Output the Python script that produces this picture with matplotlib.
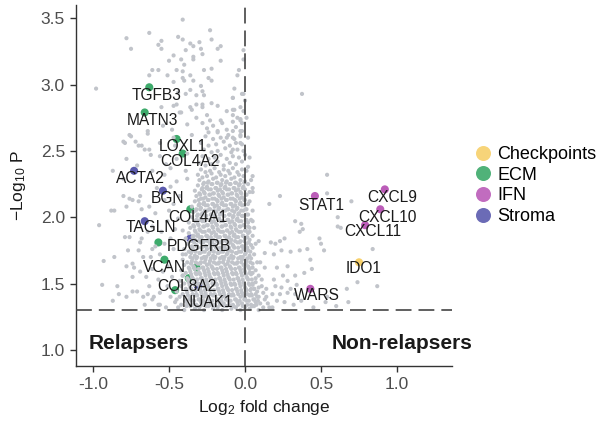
import numpy as np
import matplotlib
matplotlib.use("Agg")
import matplotlib.pyplot as plt
from matplotlib.lines import Line2D

plt.rcParams["font.family"] = ["Liberation Sans", "DejaVu Sans"]
plt.rcParams["mathtext.fontset"] = "custom"
plt.rcParams["mathtext.rm"] = "Liberation Sans"
plt.rcParams["mathtext.it"] = "Liberation Sans:italic"

# highlighted genes: log2 fold change, -log10 p, pathway group
genes = ["TGFB3", "MATN3", "LOXL1", "COL4A2", "ACTA2", "BGN", "COL4A1", "TAGLN",
         "PDGFRB", "", "VCAN", "", "", "COL8A2", "NUAK1",
         "STAT1", "CXCL9", "CXCL10", "CXCL11", "IDO1", "WARS"]
gene_lfc = [-0.63, -0.66, -0.45, -0.41, -0.73, -0.54, -0.36, -0.66,
            -0.36, -0.57, -0.53, -0.32, -0.37, -0.46, -0.31,
            0.46, 0.92, 0.89, 0.79, 0.75, 0.43]
gene_logp = [2.98, 2.79, 2.59, 2.48, 2.35, 2.20, 2.06, 1.97,
             1.84, 1.81, 1.68, 1.62, 1.54, 1.45, 1.48,
             2.16, 2.21, 2.06, 1.94, 1.66, 1.46]
gene_group = ["ECM", "ECM", "ECM", "ECM", "Stroma", "Stroma", "ECM", "Stroma",
              "Stroma", "ECM", "ECM", "ECM", "ECM", "ECM", "Stroma",
              "IFN", "IFN", "IFN", "IFN", "Checkpoints", "IFN"]

# where each gene name is written
label_pos = [(-0.585, 2.92), (-0.61, 2.73), (-0.41, 2.53), (-0.36, 2.42), (-0.69, 2.29),
             (-0.51, 2.14), (-0.31, 2.00), (-0.62, 1.92), (-0.30, 1.78), None,
             (-0.53, 1.62), None, None, (-0.38, 1.48), (-0.25, 1.36),
             (0.50, 2.09), (0.97, 2.15), (0.94, 2.00), (0.84, 1.89), (0.78, 1.61), (0.47, 1.41)]

groups = ["Checkpoints", "ECM", "IFN", "Stroma"]
group_colors = {"Checkpoints": "#F7D06B", "ECM": "#3DAA6B", "IFN": "#BB5CB8", "Stroma": "#5B5BAE"}

# all other genes (grey)
bg_upper = [
    (-0.41, 3.49), (-0.78, 3.35), (-0.63, 3.39), (-0.75, 3.27), (-0.55, 3.33), (-0.57, 3.30),
    (-0.55, 3.27), (-0.44, 3.36), (-0.41, 3.34), (-0.36, 3.31), (-0.34, 3.29), (-0.30, 3.32),
    (-0.29, 3.27), (-0.23, 3.41), (-0.22, 3.34), (-0.28, 3.23), (-0.16, 3.29), (-0.18, 3.27),
    (-0.16, 3.18), (-0.39, 3.26), (-0.34, 3.21), (-0.34, 3.19), (-0.42, 3.19), (-0.47, 3.22),
    (-0.50, 3.18), (-0.40, 3.15), (-0.45, 3.11), (-0.41, 3.10), (-0.57, 3.11), (-0.61, 3.11),
    (-0.63, 3.07), (-0.51, 3.07), (-0.47, 3.02), (-0.41, 3.05), (-0.40, 3.03), (-0.36, 3.07),
    (-0.34, 3.03), (-0.27, 3.11), (-0.22, 3.12), (-0.24, 3.05), (-0.22, 3.03), (-0.29, 2.99),
    (-0.28, 2.95), (-0.36, 2.96), (-0.44, 2.94), (-0.39, 2.93), (-0.32, 2.92), (-0.27, 2.92),
    (-0.98, 2.97), (-0.07, 2.97), (-0.04, 3.11), (-0.05, 3.07), (-0.08, 2.90), (-0.01, 2.93),
    (-0.01, 3.26), (-0.01, 3.19), (-0.45, 2.85), (-0.47, 2.84), (-0.36, 2.83), (-0.32, 2.85),
    (-0.28, 2.85), (-0.22, 2.86), (-0.18, 2.84), (-0.08, 2.81), (-0.01, 2.80), (-0.42, 2.79),
    (-0.55, 2.83), (0.375, 2.93), (-0.02, 2.93), (-0.07, 2.81), (-0.05, 2.75), (-0.02, 2.71),
    (-0.08, 2.65), (-0.03, 2.62), (-0.08, 2.60), (-0.03, 2.56), (-0.08, 2.51),
]
bg_mid = [
    (-0.76, 2.62), (-0.79, 2.56), (-0.72, 2.57), (-0.64, 2.65), (-0.54, 2.69), (-0.48, 2.66),
    (-0.38, 2.70), (-0.35, 2.62), (-0.32, 2.75), (-0.28, 2.71), (-0.21, 2.69), (-0.18, 2.64),
    (-0.24, 2.64), (-0.43, 2.79), (-0.35, 2.81), (-0.28, 2.83), (-0.25, 2.77), (-0.08, 2.90),
    (-0.03, 2.83), (-0.08, 2.77), (-0.03, 2.73), (-0.12, 2.80), (-0.16, 2.73), (-0.03, 2.65),
    (-0.12, 2.60), (-0.80, 2.57), (-0.75, 2.61), (-0.70, 2.54), (-0.64, 2.63), (-0.66, 2.51),
    (-0.62, 2.47), (-0.86, 2.05), (-0.78, 2.08), (-0.76, 2.14), (-0.70, 2.12),
    (-0.88, 2.05), (-0.96, 1.94), (-0.94, 1.49), (-0.93, 1.67), (-0.79, 1.85), (-0.77, 1.75),
    (-0.74, 1.65), (-0.74, 1.55), (-0.69, 1.59), (-0.71, 1.44), (-0.64, 1.42), (-0.61, 1.38),
    (-0.66, 1.34), (-0.56, 1.34), (-0.68, 2.06), (-0.74, 2.13), (-0.80, 2.16), (-0.69, 2.16),
    (-0.63, 2.08), (-0.59, 2.03), (-0.64, 1.89), (-0.61, 1.93), (-0.55, 1.89), (-0.69, 1.81),
    (-0.61, 1.76), (-0.56, 1.72), (-0.67, 1.70), (-0.61, 1.61), (-0.57, 1.53), (-0.54, 1.59),
    (-0.51, 1.48), (-0.56, 1.43), (-0.49, 1.40), (-0.51, 1.63), (-0.47, 1.76), (-0.49, 1.84),
    (-0.46, 1.91), (-0.51, 1.97), (-0.44, 1.99), (-0.47, 2.10), (-0.53, 2.13), (-0.43, 2.16),
    (-0.58, 2.22), (-0.49, 2.23), (-0.45, 2.27), (-0.53, 2.32), (-0.61, 2.35), (-0.49, 2.37),
    (-0.45, 2.44), (-0.56, 2.46), (-0.63, 2.51), (-0.68, 2.54), (-0.56, 2.56), (-0.46, 2.54),
    (-0.71, 2.39), (-0.78, 2.44), (-0.80, 2.29), (-0.87, 2.35), (-0.39, 2.35), (-0.38, 2.29),
    (-0.38, 2.48), (-0.41, 1.90), (-0.41, 1.72), (-0.41, 1.56), (-0.45, 1.38), (-0.78, 1.40),
    (-0.84, 1.48), (-0.87, 1.37), (-0.78, 1.63), (-0.73, 1.62), (-0.70, 1.75), (-0.76, 1.85),
    (-0.68, 1.84), (-0.65, 1.55), (-0.63, 1.48), (-0.74, 1.44), (-0.60, 1.40), (-0.67, 1.40),
    (-0.57, 1.34), (-0.62, 1.70), (-0.59, 1.78), (-0.86, 1.70), (-0.83, 1.42),
    (-0.52, 2.40), (-0.50, 2.05), (-0.53, 1.80), (-0.48, 1.55), (-0.52, 1.32), (-0.47, 2.60),
]
bg_core = [
    (-0.44, 1.32), (-0.40, 1.30), (-0.36, 1.33), (-0.33, 1.31), (-0.30, 1.32), (-0.27, 1.30),
    (-0.24, 1.33), (-0.21, 1.31), (-0.18, 1.32), (-0.15, 1.30), (-0.12, 1.33), (-0.09, 1.31),
    (-0.06, 1.32), (-0.03, 1.30), (0.00, 1.32), (0.03, 1.31), (0.06, 1.33), (0.09, 1.30), (0.12, 1.32),
    (-0.46, 1.36), (-0.42, 1.34), (-0.38, 1.35), (-0.35, 1.37), (-0.32, 1.34), (-0.29, 1.36),
    (-0.26, 1.35), (-0.23, 1.37), (-0.20, 1.34), (-0.17, 1.36), (-0.14, 1.35), (-0.11, 1.37),
    (-0.08, 1.34), (-0.05, 1.36), (-0.02, 1.35), (0.01, 1.37), (0.04, 1.34), (0.07, 1.36), (0.10, 1.35),
    (-0.43, 1.40), (-0.39, 1.38), (-0.36, 1.39), (-0.33, 1.41), (-0.30, 1.38), (-0.27, 1.40),
    (-0.24, 1.39), (-0.21, 1.41), (-0.18, 1.38), (-0.15, 1.40), (-0.12, 1.39), (-0.09, 1.41),
    (-0.06, 1.38), (-0.03, 1.40), (0.00, 1.39), (0.03, 1.41), (0.06, 1.38), (0.09, 1.40),
    (-0.45, 1.44), (-0.41, 1.42), (-0.38, 1.43), (-0.35, 1.45), (-0.32, 1.42), (-0.29, 1.44),
    (-0.26, 1.43), (-0.23, 1.45), (-0.20, 1.42), (-0.17, 1.44), (-0.14, 1.43), (-0.11, 1.45),
    (-0.08, 1.42), (-0.05, 1.44), (-0.02, 1.43), (0.01, 1.45), (0.04, 1.42), (0.08, 1.44),
    (-0.42, 1.48), (-0.39, 1.46), (-0.36, 1.47), (-0.33, 1.49), (-0.30, 1.46), (-0.27, 1.48),
    (-0.24, 1.47), (-0.21, 1.49), (-0.18, 1.46), (-0.15, 1.48), (-0.12, 1.47), (-0.09, 1.49),
    (-0.06, 1.46), (-0.03, 1.48), (0.00, 1.47), (0.03, 1.49), (0.06, 1.46),
    (-0.43, 1.52), (-0.40, 1.50), (-0.37, 1.51), (-0.34, 1.53), (-0.31, 1.50), (-0.28, 1.52),
    (-0.25, 1.51), (-0.22, 1.53), (-0.19, 1.50), (-0.16, 1.52), (-0.13, 1.51), (-0.10, 1.53),
    (-0.07, 1.50), (-0.04, 1.52), (-0.01, 1.51), (0.02, 1.53), (0.05, 1.50),
    (-0.41, 1.56), (-0.38, 1.54), (-0.35, 1.55), (-0.32, 1.57), (-0.29, 1.54), (-0.26, 1.56),
    (-0.23, 1.55), (-0.20, 1.57), (-0.17, 1.54), (-0.14, 1.56), (-0.11, 1.55), (-0.08, 1.57),
    (-0.05, 1.54), (-0.02, 1.56), (0.01, 1.55), (0.04, 1.57), (0.07, 1.54),
    (-0.42, 1.60), (-0.39, 1.58), (-0.36, 1.59), (-0.33, 1.61), (-0.30, 1.58), (-0.27, 1.60),
    (-0.24, 1.59), (-0.21, 1.61), (-0.18, 1.58), (-0.15, 1.60), (-0.12, 1.59), (-0.09, 1.61),
    (-0.06, 1.58), (-0.03, 1.60), (0.00, 1.59), (0.03, 1.61), (0.05, 1.58),
    (-0.40, 1.64), (-0.37, 1.62), (-0.34, 1.63), (-0.31, 1.65), (-0.28, 1.62), (-0.25, 1.64),
    (-0.22, 1.63), (-0.19, 1.65), (-0.16, 1.62), (-0.13, 1.64), (-0.10, 1.63), (-0.07, 1.65),
    (-0.04, 1.62), (-0.01, 1.64), (0.02, 1.63), (0.05, 1.65),
    (-0.41, 1.68), (-0.38, 1.66), (-0.35, 1.67), (-0.32, 1.69), (-0.29, 1.66), (-0.26, 1.68),
    (-0.23, 1.67), (-0.20, 1.69), (-0.17, 1.66), (-0.14, 1.68), (-0.11, 1.67), (-0.08, 1.69),
    (-0.05, 1.66), (-0.02, 1.68), (0.01, 1.67), (0.04, 1.69),
    (-0.39, 1.72), (-0.36, 1.70), (-0.33, 1.71), (-0.30, 1.73), (-0.27, 1.70), (-0.24, 1.72),
    (-0.21, 1.71), (-0.18, 1.73), (-0.15, 1.70), (-0.12, 1.72), (-0.09, 1.71), (-0.06, 1.73),
    (-0.03, 1.70), (0.00, 1.72), (0.03, 1.71),
    (-0.40, 1.76), (-0.37, 1.74), (-0.34, 1.75), (-0.31, 1.77), (-0.28, 1.74), (-0.25, 1.76),
    (-0.22, 1.75), (-0.19, 1.77), (-0.16, 1.74), (-0.13, 1.76), (-0.10, 1.75), (-0.07, 1.77),
    (-0.04, 1.74), (-0.01, 1.76), (0.02, 1.75), (0.05, 1.77),
    (-0.38, 1.80), (-0.35, 1.78), (-0.32, 1.79), (-0.29, 1.81), (-0.26, 1.78), (-0.23, 1.80),
    (-0.20, 1.79), (-0.17, 1.81), (-0.14, 1.78), (-0.11, 1.80), (-0.08, 1.79), (-0.05, 1.81),
    (-0.02, 1.78), (0.01, 1.80), (0.04, 1.79),
    (-0.39, 1.84), (-0.36, 1.82), (-0.33, 1.83), (-0.30, 1.85), (-0.27, 1.82), (-0.24, 1.84),
    (-0.21, 1.83), (-0.18, 1.85), (-0.15, 1.82), (-0.12, 1.84), (-0.09, 1.83), (-0.06, 1.85),
    (-0.03, 1.82), (0.00, 1.84), (0.03, 1.83),
    (-0.37, 1.88), (-0.34, 1.86), (-0.31, 1.87), (-0.28, 1.89), (-0.25, 1.86), (-0.22, 1.88),
    (-0.19, 1.87), (-0.16, 1.89), (-0.13, 1.86), (-0.10, 1.88), (-0.07, 1.87), (-0.04, 1.89),
    (-0.01, 1.86), (0.02, 1.88),
    (-0.36, 1.92), (-0.33, 1.90), (-0.30, 1.91), (-0.27, 1.93), (-0.24, 1.90), (-0.21, 1.92),
    (-0.18, 1.91), (-0.15, 1.93), (-0.12, 1.90), (-0.09, 1.92), (-0.06, 1.91), (-0.03, 1.93),
    (0.00, 1.90), (0.03, 1.92),
    (-0.37, 1.96), (-0.34, 1.94), (-0.31, 1.95), (-0.28, 1.97), (-0.25, 1.94), (-0.22, 1.96),
    (-0.19, 1.95), (-0.16, 1.97), (-0.13, 1.94), (-0.10, 1.96), (-0.07, 1.95), (-0.04, 1.97),
    (-0.01, 1.94), (0.02, 1.96),
    (-0.35, 2.00), (-0.32, 1.98), (-0.29, 1.99), (-0.26, 2.01), (-0.23, 1.98), (-0.20, 2.00),
    (-0.17, 1.99), (-0.14, 2.01), (-0.11, 1.98), (-0.08, 2.00), (-0.05, 1.99), (-0.02, 2.01), (0.01, 1.98),
    (-0.34, 2.04), (-0.31, 2.02), (-0.28, 2.03), (-0.25, 2.05), (-0.22, 2.02), (-0.19, 2.04),
    (-0.16, 2.03), (-0.13, 2.05), (-0.10, 2.02), (-0.07, 2.04), (-0.04, 2.03), (-0.01, 2.05), (0.02, 2.02),
    (-0.35, 2.08), (-0.32, 2.06), (-0.29, 2.07), (-0.26, 2.09), (-0.23, 2.06), (-0.20, 2.08),
    (-0.17, 2.07), (-0.14, 2.09), (-0.11, 2.06), (-0.08, 2.08), (-0.05, 2.07), (-0.02, 2.09), (0.01, 2.06),
    (-0.33, 2.12), (-0.30, 2.10), (-0.27, 2.11), (-0.24, 2.13), (-0.21, 2.10), (-0.18, 2.12),
    (-0.15, 2.11), (-0.12, 2.13), (-0.09, 2.10), (-0.06, 2.12), (-0.03, 2.11), (0.00, 2.13), (0.02, 2.10),
    (-0.32, 2.16), (-0.29, 2.14), (-0.26, 2.15), (-0.23, 2.17), (-0.20, 2.14), (-0.17, 2.16),
    (-0.14, 2.15), (-0.11, 2.17), (-0.08, 2.14), (-0.05, 2.16), (-0.02, 2.15), (0.01, 2.17),
    (-0.33, 2.20), (-0.30, 2.18), (-0.27, 2.19), (-0.24, 2.21), (-0.21, 2.18), (-0.18, 2.20),
    (-0.15, 2.19), (-0.12, 2.21), (-0.09, 2.18), (-0.06, 2.20), (-0.03, 2.19), (0.00, 2.21),
    (-0.31, 2.24), (-0.28, 2.22), (-0.25, 2.23), (-0.22, 2.25), (-0.19, 2.22), (-0.16, 2.24),
    (-0.13, 2.23), (-0.10, 2.25), (-0.07, 2.22), (-0.04, 2.24), (-0.01, 2.23), (0.02, 2.25),
    (-0.30, 2.28), (-0.27, 2.26), (-0.24, 2.27), (-0.21, 2.29), (-0.18, 2.26), (-0.15, 2.28),
    (-0.12, 2.27), (-0.09, 2.29), (-0.06, 2.26), (-0.03, 2.28), (0.00, 2.27),
    (-0.31, 2.32), (-0.28, 2.30), (-0.25, 2.31), (-0.22, 2.33), (-0.19, 2.30), (-0.16, 2.32),
    (-0.13, 2.31), (-0.10, 2.33), (-0.07, 2.30), (-0.04, 2.32), (-0.01, 2.31),
    (-0.29, 2.36), (-0.26, 2.34), (-0.23, 2.35), (-0.20, 2.37), (-0.17, 2.34), (-0.14, 2.36),
    (-0.11, 2.35), (-0.08, 2.37), (-0.05, 2.34), (-0.02, 2.36), (0.01, 2.35),
    (-0.30, 2.41), (-0.26, 2.39), (-0.22, 2.40), (-0.18, 2.42), (-0.14, 2.39), (-0.10, 2.41),
    (-0.06, 2.40), (-0.02, 2.42),
    (-0.28, 2.46), (-0.24, 2.44), (-0.20, 2.45), (-0.16, 2.47), (-0.12, 2.44), (-0.08, 2.46),
    (-0.04, 2.45), (0.00, 2.47),
    (-0.27, 2.51), (-0.22, 2.49), (-0.18, 2.50), (-0.13, 2.52), (-0.09, 2.49), (-0.05, 2.51), (-0.01, 2.50),
    (-0.29, 2.56), (-0.24, 2.54), (-0.19, 2.55), (-0.14, 2.57), (-0.10, 2.54), (-0.06, 2.56), (-0.02, 2.55),
    (-0.26, 2.61), (-0.21, 2.59), (-0.16, 2.60), (-0.11, 2.62), (-0.07, 2.59), (-0.03, 2.61),
    (-0.25, 2.67), (-0.18, 2.65), (-0.12, 2.66), (-0.06, 2.68), (-0.02, 2.65),
    (-0.23, 2.73), (-0.15, 2.71), (-0.08, 2.72), (-0.03, 2.74),
]
# second pass through the densest part of the cloud
bg_core_fill = [
    (-0.385, 1.33), (-0.345, 1.34), (-0.315, 1.33), (-0.285, 1.34), (-0.255, 1.33), (-0.225, 1.34),
    (-0.195, 1.33), (-0.165, 1.34), (-0.135, 1.33), (-0.105, 1.34), (-0.075, 1.33), (-0.045, 1.34),
    (-0.015, 1.33), (0.015, 1.34), (0.045, 1.33), (0.075, 1.34),
    (-0.395, 1.37), (-0.365, 1.38), (-0.335, 1.37), (-0.305, 1.38), (-0.275, 1.37), (-0.245, 1.38),
    (-0.215, 1.37), (-0.185, 1.38), (-0.155, 1.37), (-0.125, 1.38), (-0.095, 1.37), (-0.065, 1.38),
    (-0.035, 1.37), (-0.005, 1.38), (0.025, 1.37), (0.055, 1.38), (0.085, 1.37),
    (-0.375, 1.41), (-0.345, 1.42), (-0.315, 1.41), (-0.285, 1.42), (-0.255, 1.41), (-0.225, 1.42),
    (-0.195, 1.41), (-0.165, 1.42), (-0.135, 1.41), (-0.105, 1.42), (-0.075, 1.41), (-0.045, 1.42),
    (-0.015, 1.41), (0.015, 1.42), (0.045, 1.41), (0.07, 1.42),
    (-0.385, 1.45), (-0.355, 1.46), (-0.325, 1.45), (-0.295, 1.46), (-0.265, 1.45), (-0.235, 1.46),
    (-0.205, 1.45), (-0.175, 1.46), (-0.145, 1.45), (-0.115, 1.46), (-0.085, 1.45), (-0.055, 1.46),
    (-0.025, 1.45), (0.005, 1.46), (0.035, 1.45), (0.06, 1.46),
    (-0.365, 1.49), (-0.335, 1.50), (-0.305, 1.49), (-0.275, 1.50), (-0.245, 1.49), (-0.215, 1.50),
    (-0.185, 1.49), (-0.155, 1.50), (-0.125, 1.49), (-0.095, 1.50), (-0.065, 1.49), (-0.035, 1.50),
    (-0.005, 1.49), (0.025, 1.50), (0.05, 1.49),
    (-0.375, 1.53), (-0.345, 1.54), (-0.315, 1.53), (-0.285, 1.54), (-0.255, 1.53), (-0.225, 1.54),
    (-0.195, 1.53), (-0.165, 1.54), (-0.135, 1.53), (-0.105, 1.54), (-0.075, 1.53), (-0.045, 1.54),
    (-0.015, 1.53), (0.015, 1.54), (0.045, 1.53),
    (-0.355, 1.57), (-0.325, 1.58), (-0.295, 1.57), (-0.265, 1.58), (-0.235, 1.57), (-0.205, 1.58),
    (-0.175, 1.57), (-0.145, 1.58), (-0.115, 1.57), (-0.085, 1.58), (-0.055, 1.57), (-0.025, 1.58),
    (0.005, 1.57), (0.035, 1.58),
    (-0.365, 1.61), (-0.335, 1.62), (-0.305, 1.61), (-0.275, 1.62), (-0.245, 1.61), (-0.215, 1.62),
    (-0.185, 1.61), (-0.155, 1.62), (-0.125, 1.61), (-0.095, 1.62), (-0.065, 1.61), (-0.035, 1.62),
    (-0.005, 1.61), (0.025, 1.62),
    (-0.355, 1.65), (-0.325, 1.66), (-0.295, 1.65), (-0.265, 1.66), (-0.235, 1.65), (-0.205, 1.66),
    (-0.175, 1.65), (-0.145, 1.66), (-0.115, 1.65), (-0.085, 1.66), (-0.055, 1.65), (-0.025, 1.66),
    (0.005, 1.65), (0.035, 1.66),
    (-0.345, 1.69), (-0.315, 1.70), (-0.285, 1.69), (-0.255, 1.70), (-0.225, 1.69), (-0.195, 1.70),
    (-0.165, 1.69), (-0.135, 1.70), (-0.105, 1.69), (-0.075, 1.70), (-0.045, 1.69), (-0.015, 1.70),
    (0.015, 1.69),
    (-0.355, 1.73), (-0.325, 1.74), (-0.295, 1.73), (-0.265, 1.74), (-0.235, 1.73), (-0.205, 1.74),
    (-0.175, 1.73), (-0.145, 1.74), (-0.115, 1.73), (-0.085, 1.74), (-0.055, 1.73), (-0.025, 1.74),
    (0.005, 1.73), (0.035, 1.74),
    (-0.345, 1.77), (-0.315, 1.78), (-0.285, 1.77), (-0.255, 1.78), (-0.225, 1.77), (-0.195, 1.78),
    (-0.165, 1.77), (-0.135, 1.78), (-0.105, 1.77), (-0.075, 1.78), (-0.045, 1.77), (-0.015, 1.78),
    (0.015, 1.77),
    (-0.335, 1.81), (-0.305, 1.82), (-0.275, 1.81), (-0.245, 1.82), (-0.215, 1.81), (-0.185, 1.82),
    (-0.155, 1.81), (-0.125, 1.82), (-0.095, 1.81), (-0.065, 1.82), (-0.035, 1.81), (-0.005, 1.82),
    (0.025, 1.81),
    (-0.345, 1.85), (-0.315, 1.86), (-0.285, 1.85), (-0.255, 1.86), (-0.225, 1.85), (-0.195, 1.86),
    (-0.165, 1.85), (-0.135, 1.86), (-0.105, 1.85), (-0.075, 1.86), (-0.045, 1.85), (-0.015, 1.86),
    (0.015, 1.85),
    (-0.325, 1.89), (-0.295, 1.90), (-0.265, 1.89), (-0.235, 1.90), (-0.205, 1.89), (-0.175, 1.90),
    (-0.145, 1.89), (-0.115, 1.90), (-0.085, 1.89), (-0.055, 1.90), (-0.025, 1.89), (0.005, 1.90),
    (-0.335, 1.93), (-0.305, 1.94), (-0.275, 1.93), (-0.245, 1.94), (-0.215, 1.93), (-0.185, 1.94),
    (-0.155, 1.93), (-0.125, 1.94), (-0.095, 1.93), (-0.065, 1.94), (-0.035, 1.93), (-0.005, 1.94),
    (0.02, 1.93),
    (-0.325, 1.97), (-0.295, 1.98), (-0.265, 1.97), (-0.235, 1.98), (-0.205, 1.97), (-0.175, 1.98),
    (-0.145, 1.97), (-0.115, 1.98), (-0.085, 1.97), (-0.055, 1.98), (-0.025, 1.97), (0.005, 1.98),
    (-0.315, 2.01), (-0.285, 2.02), (-0.255, 2.01), (-0.225, 2.02), (-0.195, 2.01), (-0.165, 2.02),
    (-0.135, 2.01), (-0.105, 2.02), (-0.075, 2.01), (-0.045, 2.02), (-0.015, 2.01), (0.01, 2.02),
    (-0.325, 2.05), (-0.295, 2.06), (-0.265, 2.05), (-0.235, 2.06), (-0.205, 2.05), (-0.175, 2.06),
    (-0.145, 2.05), (-0.115, 2.06), (-0.085, 2.05), (-0.055, 2.06), (-0.025, 2.05), (0.005, 2.06),
    (-0.305, 2.09), (-0.275, 2.10), (-0.245, 2.09), (-0.215, 2.10), (-0.185, 2.09), (-0.155, 2.10),
    (-0.125, 2.09), (-0.095, 2.10), (-0.065, 2.09), (-0.035, 2.10), (-0.005, 2.09),
    (-0.305, 2.13), (-0.275, 2.14), (-0.245, 2.13), (-0.215, 2.14), (-0.185, 2.13), (-0.155, 2.14),
    (-0.125, 2.13), (-0.095, 2.14), (-0.065, 2.13), (-0.035, 2.14), (-0.005, 2.13),
    (-0.295, 2.17), (-0.265, 2.18), (-0.235, 2.17), (-0.205, 2.18), (-0.175, 2.17), (-0.145, 2.18),
    (-0.115, 2.17), (-0.085, 2.18), (-0.055, 2.17), (-0.025, 2.18), (0.005, 2.17),
    (-0.285, 2.21), (-0.255, 2.22), (-0.225, 2.21), (-0.195, 2.22), (-0.165, 2.21), (-0.135, 2.22),
    (-0.105, 2.21), (-0.075, 2.22), (-0.045, 2.21), (-0.015, 2.22),
    (-0.275, 2.25), (-0.245, 2.26), (-0.215, 2.25), (-0.185, 2.26), (-0.155, 2.25), (-0.125, 2.26),
    (-0.095, 2.25), (-0.065, 2.26), (-0.035, 2.25), (-0.005, 2.26),
]
bg_right = [
    (0.05, 2.19), (0.23, 2.16), (0.16, 2.10), (0.05, 1.97), (0.03, 1.89), (0.09, 1.82),
    (0.17, 1.81), (0.20, 1.80), (0.23, 1.82), (0.26, 1.84), (0.33, 1.97), (0.37, 1.95),
    (0.36, 1.89), (0.38, 1.91), (0.49, 1.84), (0.50, 1.80), (0.52, 1.75), (0.54, 2.18),
    (0.61, 1.93), (0.70, 2.12), (0.84, 1.76), (0.41, 1.76), (0.36, 1.75), (0.30, 1.74),
    (0.24, 1.75), (0.19, 1.72), (0.13, 1.73), (0.10, 1.66), (0.05, 1.62), (0.03, 1.58),
    (0.13, 1.62), (0.21, 1.62), (0.28, 1.63), (0.43, 1.68), (0.44, 1.61), (0.39, 1.58),
    (0.33, 1.56), (0.25, 1.56), (0.19, 1.53), (0.11, 1.53), (0.07, 1.51), (0.04, 1.46),
    (0.09, 1.47), (0.14, 1.46), (0.20, 1.48), (0.24, 1.47), (0.28, 1.52), (0.34, 1.49),
    (0.30, 1.46), (0.18, 1.42), (0.23, 1.42), (0.28, 1.43), (0.33, 1.42), (0.08, 1.40),
    (0.13, 1.38), (0.21, 1.37), (0.26, 1.36), (0.32, 1.34), (0.37, 1.37), (0.53, 1.36),
    (0.67, 1.46), (0.74, 1.51), (0.87, 1.48), (0.60, 1.33), (0.68, 1.36), (0.05, 1.33),
    (0.18, 1.32), (0.45, 1.32), (0.54, 1.40), (0.54, 2.32), (0.61, 2.00), (0.63, 1.92),
    (0.05, 2.31), (0.03, 2.19), (0.03, 2.45), (0.02, 2.38), (0.04, 2.28), (0.05, 2.22),
    (0.03, 2.12), (0.05, 2.05), (0.04, 1.98), (0.06, 1.92), (0.05, 1.86), (0.07, 1.80),
    (0.06, 1.72), (0.08, 1.66), (0.07, 1.60), (0.09, 1.56), (0.11, 1.48), (0.12, 1.43),
    (0.14, 1.40), (0.15, 1.35), (0.16, 1.32), (0.02, 2.60), (0.01, 2.75), (0.00, 2.88),
]

fig = plt.figure(figsize=(5.99, 4.21), dpi=100)
ax = fig.add_axes([0.1269, 0.1306, 0.6277, 0.8574])

# highlighted genes sit underneath the grey cloud
for g in groups:
    xs = [x for x, grp in zip(gene_lfc, gene_group) if grp == g]
    ys = [y for y, grp in zip(gene_logp, gene_group) if grp == g]
    ax.scatter(xs, ys, s=34, color=group_colors[g], edgecolors="none", zorder=2)

bg = np.array(bg_upper + bg_mid + bg_core + bg_core_fill + bg_right)
ax.scatter(bg[:, 0], bg[:, 1], s=9, color="#C1C4CA", edgecolors="none", zorder=3)

for name, pos in zip(genes, label_pos):
    if pos is None:
        continue
    ax.text(pos[0], pos[1], name, fontsize=11.2, color="#1A1A1A",
            ha="center", va="center", zorder=5)

dash = (0, (9.5, 4.2))
ax.axvline(0, color="#444444", lw=1.2, linestyle=dash, zorder=4)
ax.axhline(1.30, color="#444444", lw=1.2, linestyle=dash, zorder=4)

ax.text(-1.03, 1.05, "Relapsers", fontsize=15, fontweight="bold", color="#1A1A1A",
        ha="left", va="center")
ax.text(0.57, 1.05, "Non-relapsers", fontsize=15, fontweight="bold", color="#1A1A1A",
        ha="left", va="center", clip_on=False)

ax.set_xlim(-1.112, 1.362)
ax.set_ylim(0.878, 3.60)
ax.set_xticks([-1.0, -0.5, 0.0, 0.5, 1.0])
ax.set_yticks([1.0, 1.5, 2.0, 2.5, 3.0, 3.5])
ax.xaxis.set_major_formatter(matplotlib.ticker.FormatStrFormatter("%.1f"))
ax.yaxis.set_major_formatter(matplotlib.ticker.FormatStrFormatter("%.1f"))
ax.tick_params(labelsize=12.5, labelcolor="#4D4D4D", color="#333333", length=4.5, width=1.0)
for side in ["top", "right"]:
    ax.spines[side].set_visible(False)
for side in ["left", "bottom"]:
    ax.spines[side].set_color("#333333")
    ax.spines[side].set_linewidth(1.0)

ax.set_xlabel("Log$_2$ fold change", fontsize=12.5, color="#1A1A1A", labelpad=4)
ax.set_ylabel("$-$Log$_{10}$ P", fontsize=12.5, color="#1A1A1A", labelpad=9)

handles = [Line2D([], [], marker="o", linestyle="none", markersize=10.8,
                  markerfacecolor=group_colors[g], markeredgecolor="none", alpha=0.9)
           for g in groups]
fig.legend(handles, groups, loc="upper left", bbox_to_anchor=(0.791, 0.653),
           frameon=False, fontsize=13, handlelength=1.0, handletextpad=0.3,
           labelspacing=0.2, borderpad=0, borderaxespad=0)

fig.savefig("out.png", dpi=100)
